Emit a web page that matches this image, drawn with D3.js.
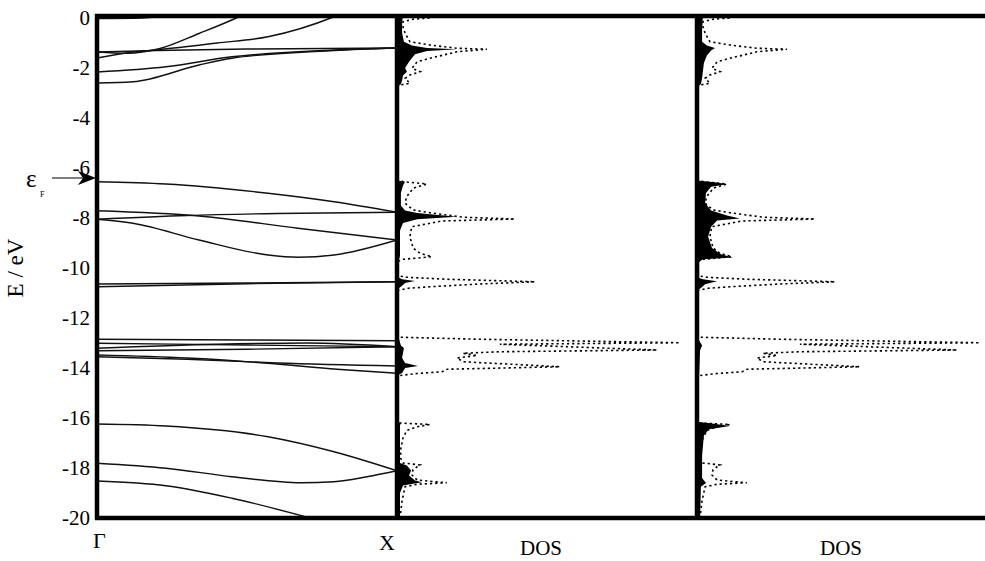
<!DOCTYPE html>
<html>
<head>
<meta charset="utf-8">
<script src="https://cdn.jsdelivr.net/npm/d3@7"></script>
<style>
  body { margin: 0; background: #fff; }
  svg { display: block; }
</style>
</head>
<body>
<script>
// ===================================================================

const WIDTH = 985
const HEIGHT = 561

const TOP = 15
const BOTTOM = 518
const BAND_LEFT = 97
const DOS1_LEFT = 397
const DOS2_LEFT = 697
const RIGHT = 985

const SERIF = 'Liberation Serif'

// energy axis (eV)
const Y_TICKS = [0, -2, -4, -6, -8, -10, -12, -14, -16, -18, -20]
const FERMI = -6.4
const K_LABELS = ['Γ', 'X']
const DOS_LABEL = 'DOS'

// band structure, [k, E] with k = 0 at Γ and k = 1 at X
const bandsTop = [
  [[0, -0.02], [0.15, 0.0], [0.3, 0.2]],
  [[0, -1.36], [0.1, -1.41], [0.21, -1.22], [0.34, -0.62], [0.47, 0.03], [0.5, 0.2]],
  [[0, -1.6], [0.12, -1.36], [0.21, -1.26], [0.4, -1.0], [0.57, -0.75], [0.79, 0.05], [0.82, 0.2]],
  [[0, -1.36], [0.2, -1.3], [0.5, -1.24], [1, -1.2]],
  [[0, -2.16], [0.23, -1.95], [0.45, -1.55], [0.79, -1.28], [1, -1.2]],
  [[0, -2.6], [0.12, -2.55], [0.34, -1.88], [0.45, -1.61], [0.79, -1.3], [1, -1.2]]
]

const bandsMid = [
  [[0, -6.55], [0.23, -6.64], [0.57, -7.01], [0.79, -7.35], [1, -7.77]],
  [[0, -7.71], [0.34, -7.92], [0.67, -8.41], [1, -8.88]],
  [[0, -8.05], [0.3, -7.9], [0.6, -7.82], [1, -7.77]],
  [[0, -8.05], [0.12, -8.21], [0.34, -8.88], [0.57, -9.48], [0.67, -9.57], [0.79, -9.48], [1, -8.88]],
  [[0, -10.64], [0.5, -10.6], [1, -10.55]],
  [[0, -10.75], [0.5, -10.63], [1, -10.55]]
]

const bandsLow = [
  [[0, -12.85], [0.5, -12.88], [1, -12.91]],
  [[0, -13.01], [0.5, -13.08], [1, -13.15]],
  [[0, -13.21], [0.4, -13.05], [0.7, -13.0], [1, -13.15]],
  [[0, -13.31], [0.5, -13.25], [1, -13.15]],
  [[0, -13.48], [0.3, -13.6], [0.57, -13.81], [0.8, -14.05], [1, -14.21]],
  [[0, -13.55], [0.3, -13.65], [0.6, -13.8], [1, -13.92]]
]

const bandsBottom = [
  [[0, -16.24], [0.23, -16.32], [0.57, -16.75], [0.79, -17.35], [1, -18.11]],
  [[0, -17.81], [0.23, -18.01], [0.45, -18.35], [0.68, -18.59], [0.79, -18.55], [0.9, -18.35], [1, -18.11]],
  [[0, -18.52], [0.23, -18.71], [0.45, -19.21], [0.71, -20], [0.8, -20.3]]
]

// total DOS (dotted, same in both panels), [E, DOS]
const totalDos = [
  [0.15, 12], [0.0, 11], [-0.05, 5.3], [-0.15, 2], [-0.35, 2], [-0.61, 2.7], [-0.95, 4.3],
  [-1.08, 11], [-1.21, 20], [-1.25, 30], [-1.35, 20], [-1.61, 11], [-1.75, 6.7], [-2.01, 5],
  [-2.15, 7.7], [-2.28, 4.3], [-2.41, 2.7], [-2.61, 4.3], [-2.68, 1], [-2.8, 0],
  [-6.45, 0], [-6.55, 2.1], [-6.64, 9.9], [-6.81, 5.4], [-7.15, 3.2], [-7.41, 2.7], [-7.68, 5.4],
  [-7.79, 11], [-7.97, 22.1], [-8.04, 39.3], [-8.12, 15], [-8.35, 4.9], [-8.75, 4.3], [-9.21, 5.4],
  [-9.41, 7.7], [-9.55, 11.6], [-9.65, 2.1], [-9.75, 0],
  [-10.3, 0], [-10.37, 3.2], [-10.45, 16.6], [-10.55, 46], [-10.64, 27.7], [-10.75, 11],
  [-10.81, 3.8], [-10.9, 0],
  [-12.72, 0], [-12.77, 1], [-12.85, 27.7], [-12.99, 94.3], [-13.05, 34.3], [-13.28, 86.7],
  [-13.35, 34.3], [-13.41, 22], [-13.5, 26.7], [-13.6, 20], [-13.75, 22], [-13.95, 54.3],
  [-14.05, 16.7], [-14.15, 15], [-14.22, 6.7], [-14.3, 1], [-14.4, 0],
  [-16.1, 0], [-16.2, 1], [-16.26, 11], [-16.35, 6.7], [-16.5, 3.3], [-16.8, 2], [-17.2, 1.3],
  [-17.6, 1.2], [-17.8, 2], [-17.88, 7.7], [-17.95, 6.7], [-18.08, 5.3], [-18.28, 5], [-18.48, 6.7],
  [-18.59, 16.6], [-18.65, 6.7], [-18.75, 2.7], [-19.3, 1.7], [-20, 1], [-20.2, 1]
]

// projected DOS, first panel (filled)
const partialDos1 = [
  [0.15, 2], [-0.2, 1.7], [-0.6, 1.7], [-0.95, 2.3], [-1.1, 5], [-1.2, 10], [-1.25, 20],
  [-1.32, 10], [-1.45, 6], [-1.6, 5], [-1.75, 4], [-2.0, 2.7], [-2.15, 3.3], [-2.3, 2],
  [-2.5, 1.7], [-2.65, 1.3], [-2.75, 0],
  [-6.5, 0], [-6.55, 2.7], [-6.7, 2], [-7.0, 1.3], [-7.5, 1.3], [-7.7, 2.7], [-7.8, 6.7],
  [-7.95, 20], [-8.05, 6.7], [-8.2, 2], [-8.5, 1], [-9.5, 1], [-9.65, 0.7], [-9.75, 0],
  [-10.35, 0], [-10.45, 1.7], [-10.52, 6], [-10.6, 2.7], [-10.75, 1.3], [-10.85, 0],
  [-12.8, 0], [-12.85, 0.7], [-13.1, 1.3], [-13.2, 2.3], [-13.4, 2], [-13.6, 1.7], [-13.8, 2.7],
  [-13.92, 7], [-14.0, 2.7], [-14.2, 1.7], [-14.3, 0],
  [-16.15, 0], [-16.2, 1.3], [-16.3, 1], [-17.8, 1], [-17.9, 3.3], [-18.1, 4.7], [-18.3, 4],
  [-18.5, 6], [-18.57, 8.3], [-18.7, 2], [-19, 1], [-20.2, 1]
]

// projected DOS, second panel (filled)
const partialDos2 = [
  [0.15, 2], [-0.5, 1.7], [-0.95, 1.7], [-1.1, 3.3], [-1.2, 6], [-1.3, 4.7], [-1.5, 3.3],
  [-1.8, 2.3], [-2.1, 2], [-2.4, 1.7], [-2.65, 1.3], [-2.75, 0],
  [-6.5, 0], [-6.58, 6.7], [-6.65, 10], [-6.75, 4.7], [-7.0, 3], [-7.4, 2.7], [-7.7, 4.7],
  [-7.9, 10], [-8.02, 14.3], [-8.1, 6.7], [-8.35, 4.7], [-8.75, 3.7], [-9.2, 5], [-9.45, 8],
  [-9.58, 12], [-9.65, 2], [-9.75, 0.7], [-10.4, 0.7], [-10.45, 2], [-10.53, 6.7], [-10.65, 2.7],
  [-10.8, 1.3], [-10.9, 0],
  [-12.8, 0], [-12.9, 0.7], [-13.1, 1.7], [-13.3, 1], [-14.3, 0.7], [-14.4, 0],
  [-16.15, 0], [-16.22, 5], [-16.32, 11], [-16.45, 4], [-16.7, 2.3], [-17.5, 1.7], [-18.4, 1.7],
  [-18.6, 3], [-18.75, 1.3], [-20.2, 1]
]

// ===================================================================

const svg = d3.select('body')
  .append('svg')
    .attr('width', WIDTH)
    .attr('height', HEIGHT)

svg.append('rect')
  .attr('width', '100%')
  .attr('height', '100%')
  .attr('fill', 'white')

const y = d3.scaleLinear().domain([-20, 0]).range([BOTTOM, 18])
const k = d3.scaleLinear().domain([0, 1]).range([BAND_LEFT, DOS1_LEFT])
const dosScale = x0 => d3.scaleLinear().domain([0, 100]).range([x0, x0 + 300])

const defs = svg.append('defs')
const addClip = (id, x0, x1) => {
  defs.append('clipPath').attr('id', id)
    .append('rect')
      .attr('x', x0)
      .attr('y', TOP)
      .attr('width', x1 - x0)
      .attr('height', BOTTOM - TOP)
}
addClip('clip-band', BAND_LEFT, DOS1_LEFT)
addClip('clip-dos1', DOS1_LEFT, DOS2_LEFT)
addClip('clip-dos2', DOS2_LEFT, RIGHT)

// bands
const bandLine = d3.line()
  .x(d => k(d[0]))
  .y(d => y(d[1]))
  .curve(d3.curveMonotoneX)

svg.append('g')
  .attr('clip-path', 'url(#clip-band)')
  .selectAll('path')
  .data([...bandsTop, ...bandsMid, ...bandsLow, ...bandsBottom])
  .join('path')
    .attr('d', bandLine)
    .attr('fill', 'none')
    .attr('stroke', '#111')
    .attr('stroke-width', 1.4)

// DOS panels
const drawDos = (clip, x0, partial) => {
  const x = dosScale(x0)
  const g = svg.append('g').attr('clip-path', `url(#${clip})`)

  g.append('path')
    .datum(partial)
    .attr('d', d3.area().y(d => y(d[0])).x0(x(0)).x1(d => x(d[1])))
    .attr('fill', '#000')

  g.append('path')
    .datum(totalDos)
    .attr('d', d3.line().y(d => y(d[0])).x(d => x(d[1])))
    .attr('fill', 'none')
    .attr('stroke', '#000')
    .attr('stroke-width', 1.6)
    .attr('stroke-dasharray', '2.2,3')
}
drawDos('clip-dos1', DOS1_LEFT, partialDos1)
drawDos('clip-dos2', DOS2_LEFT, partialDos2)

// frame
const frame = svg.append('g')
  .attr('stroke', '#000')
  .attr('stroke-width', 4.5)
frame.append('line').attr('x1', BAND_LEFT - 2).attr('x2', RIGHT).attr('y1', TOP + 1).attr('y2', TOP + 1)
frame.append('line').attr('x1', BAND_LEFT - 2).attr('x2', RIGHT).attr('y1', BOTTOM).attr('y2', BOTTOM)
;[BAND_LEFT, DOS1_LEFT, DOS2_LEFT].forEach(x => {
  frame.append('line')
    .attr('x1', x).attr('x2', x)
    .attr('y1', TOP - 1).attr('y2', BOTTOM + 2)
})

// energy axis labels
const yAxis = svg.append('g')
  .attr('transform', `translate(${BAND_LEFT}, 0)`)
  .call(d3.axisLeft(y).tickValues(Y_TICKS).tickSize(0).tickPadding(7)
    .tickFormat(d => d === 0 ? '0' : '-' + Math.abs(d)))
yAxis.select('.domain').remove()
yAxis.attr('font-family', SERIF).attr('font-size', 21)
yAxis.selectAll('text')
  .attr('fill', '#000')
  .attr('font-family', SERIF)

const label = (x, yPos, size, text) => svg.append('text')
  .attr('x', x)
  .attr('y', yPos)
  .attr('font-family', SERIF)
  .attr('font-size', size)
  .attr('fill', '#000')
  .text(text)

label(0, 0, 23, 'E / eV')
  .attr('transform', 'translate(23, 268) rotate(-90)')
  .attr('text-anchor', 'middle')

// Fermi level arrow
const yF = y(FERMI)
svg.append('line')
  .attr('x1', 52).attr('x2', BAND_LEFT - 10)
  .attr('y1', yF).attr('y2', yF)
  .attr('stroke', '#000')
  .attr('stroke-width', 1)
svg.append('path')
  .attr('d', `M${BAND_LEFT - 1},${yF} L${BAND_LEFT - 19},${yF - 7} L${BAND_LEFT - 14},${yF} L${BAND_LEFT - 19},${yF + 7} Z`)
  .attr('fill', '#000')
label(26, yF + 9, 25, 'ε')
label(40, yF + 19, 8, 'F')

// k-point and DOS labels
label(k(0) - 4, 548, 22, K_LABELS[0])
label(k(1) - 2, 550, 22, K_LABELS[1]).attr('text-anchor', 'end')

;[DOS1_LEFT, DOS2_LEFT].forEach(x0 => {
  label(dosScale(x0)(48), 555, 21, DOS_LABEL).attr('text-anchor', 'middle')
})
</script>
</body>
</html>
